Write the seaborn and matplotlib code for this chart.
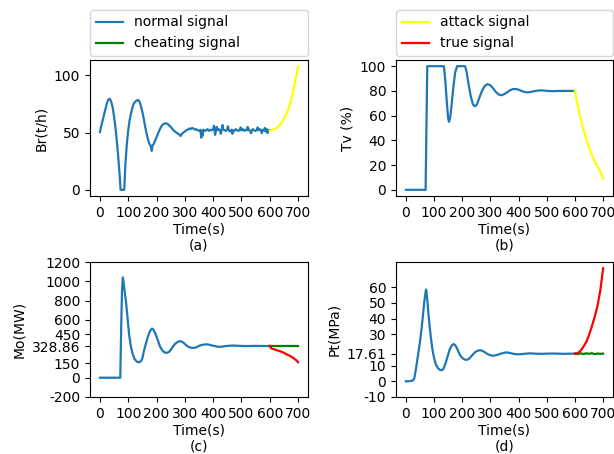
import matplotlib
matplotlib.use("Agg")
import matplotlib.pyplot as plt
import seaborn as sns

# ---------------- data ----------------
br_t = [0, 5, 10, 15, 20, 25, 30, 35, 40, 45, 50, 55, 60, 65, 70, 73, 80, 86, 90, 95,
        100, 105, 110, 115, 120, 125, 130, 135, 140, 145, 150, 155, 160, 165, 170, 175,
        180, 183, 186, 190, 195, 200, 205, 210, 215, 220, 225, 230, 235, 240, 245, 250,
        255, 260, 265, 270, 275, 280, 285, 290, 295,
        300, 305, 310, 315, 320, 325, 330, 335, 340, 345, 350, 355, 358, 360, 362, 365,
        370, 375, 380, 385, 390, 395, 400, 403, 405, 407, 410, 413, 415, 420, 425, 427,
        430, 433, 435, 440, 445, 450, 452, 455, 460, 465, 468, 470, 475, 480, 485, 490,
        495, 497, 500, 505, 510, 515, 520, 522, 525, 530, 534, 537, 540, 545, 550, 555,
        557, 560, 565, 570, 572, 575, 580, 583, 585, 590, 592, 595, 600]
br_v = [50.5, 56, 61, 66, 71, 76, 79, 79.5, 77, 72, 64, 54, 42, 28, 12, 0, 0, 0, 22, 40,
        52, 61, 67, 72, 75.5, 77, 78, 78.5, 77, 73, 68, 62, 55, 49, 44, 40,
        38, 34, 39, 40, 43, 46, 49, 52, 54.5, 56.5, 57.5, 58, 58, 57.5, 56, 55,
        53.5, 52, 51, 50, 49, 48.5, 47, 49, 50,
        51, 52, 52.5, 53.5, 53, 54, 53.5, 52.5, 53, 52, 51.5, 52.5, 45.5, 51.5, 47, 52.5,
        51.5, 52, 53, 51.5, 52.5, 52, 53, 56, 51.5, 48, 52.5, 55, 52, 53, 51.5, 49,
        52.5, 56.5, 53, 52, 51.5, 53, 55.5, 52, 51, 52.5, 49, 52, 51.5, 53, 52, 51.5,
        52.5, 54.5, 52, 53, 51.5, 52.5, 52, 55, 53, 51.5, 49.5, 52, 53, 52, 51.5, 52.5,
        54.5, 52, 53, 51.5, 49.5, 52.5, 52, 54, 51, 53, 49.5, 52, 52]
br_att_t = [600, 610, 620, 630, 640, 650, 660, 670, 680, 690, 700]
br_att_v = [51.5, 52.5, 53.5, 55, 58, 62, 67, 74, 83, 95, 108]

tv_t = [0, 70, 76, 135, 140, 145, 150, 153, 157, 162, 168, 175, 182, 210, 215, 222, 230,
        238, 245, 252, 260, 270, 280, 290, 300, 310, 320, 330, 340, 350, 360, 370, 380,
        390, 400, 410, 420, 430, 440, 450, 460, 470, 480, 490, 500, 520, 540, 560, 580, 600]
tv_v = [0, 0, 100, 100, 88, 72, 58, 55, 58, 68, 82, 95, 100, 100, 96, 86, 76,
        69, 67.5, 69, 74, 80, 84, 85.5, 84.5, 82, 79, 77, 76.5, 77.5, 79, 80.5, 81.5,
        81.5, 81, 80, 79.2, 78.8, 79, 79.5, 80, 80.3, 80.4, 80.3, 80, 79.8, 79.9, 80, 80, 80]
tv_att_t = [600, 604, 610, 615, 620, 625, 633, 640, 651, 660, 668, 677, 686, 693, 700]
tv_att_v = [80, 75, 68, 63, 58, 53, 47, 41, 34, 28, 24, 20, 16.5, 13, 9]

mo_t = [0, 72, 75, 78, 81, 84, 88, 92, 97, 103, 109, 115, 122, 130, 137, 144, 150, 155,
        162, 170, 177, 184, 190, 197, 205, 212, 220, 228, 237, 245, 255, 265, 275, 284,
        292, 300, 310, 320, 330, 340, 350, 360, 370, 377, 385, 395, 405, 415, 425, 435,
        445, 460, 475, 490, 510, 530, 550, 570, 590, 600]
mo_v = [0, 0, 500, 900, 1040, 980, 880, 790, 640, 450, 330, 254, 195, 168, 160, 168, 200, 270,
        350, 430, 485, 510, 495, 450, 385, 325, 285, 262, 258, 270, 310, 350, 372, 380,
        370, 350, 325, 312, 308, 315, 330, 340, 345, 346, 343, 335, 328, 322, 321, 324,
        328, 332, 333, 331, 328, 329, 330, 329, 329, 328.86]
mo_true_t = [600, 603, 606, 615, 625, 635, 645, 655, 665, 675, 685, 693, 700]
mo_true_v = [328.86, 315, 303, 295, 285, 276, 265, 250, 235, 220, 200, 182, 160]
mo_cheat_t = [600, 610, 620, 630, 640, 650, 660, 670, 680, 690, 700]
mo_cheat_v = [328.86] * 11

pt_t = [0, 10, 20, 25, 30, 35, 40, 45, 50, 56, 60, 65, 70, 72, 76, 80, 85, 90, 95, 100,
        105, 110, 115, 120, 127, 133, 140, 145, 150, 155, 160, 165, 170, 175, 180, 185,
        190, 195, 200, 205, 210, 217, 225, 235, 245, 255, 264, 272, 280, 290, 300, 311,
        320, 330, 340, 350, 357, 365, 375, 385, 395, 410, 425, 440, 460, 480, 500, 520,
        540, 560, 580, 600]
pt_v = [0, 0, 0.3, 0.5, 2, 7, 13, 19, 25, 34, 41, 50, 57, 58.5, 52, 43, 34, 26, 19.5, 15,
        11.5, 9.5, 8.2, 7.4, 7, 7.8, 11, 14, 17, 20, 22, 23.3, 23.7, 23, 21.5, 19.5,
        17.5, 16, 15, 14.2, 13.8, 13.7, 14.5, 16.5, 18.5, 19.5, 19.8, 19.4, 18.5, 17.3, 16.6, 16.3,
        16.6, 17.2, 17.8, 18.2, 18.4, 18.2, 17.8, 17.4, 17.2, 17.3, 17.6, 17.8, 17.6, 17.5, 17.6, 17.7,
        17.6, 17.5, 17.6, 17.61]
pt_true_t = [600, 610, 620, 630, 640, 650, 660, 670, 680, 690, 700]
pt_true_v = [17.61, 18, 19.5, 22, 25, 29.5, 35, 41, 48, 58, 72]
pt_cheat_t = [600, 610, 620, 630, 640, 650, 660, 670, 680, 690, 700]
pt_cheat_v = [17.61, 17.3, 17.9, 17.4, 17.8, 17.5, 17.9, 17.3, 17.7, 17.5, 17.6]

xticks = [0, 100, 200, 300, 400, 500, 600, 700]
mo_yticks = [-200, 0, 150, 328.86, 450, 600, 800, 1000, 1200]
mo_ylabels = ["-200", "0", "150", "328.86", "450", "600", "800", "1000", "1200"]
pt_yticks = [-10, 0, 10, 17.61, 30, 40, 50, 60]
pt_ylabels = ["-10", "0", "10", "17.61", "30", "40", "50", "60"]

# ---------------- figure ----------------
plt.rcParams['font.family'] = ['DejaVu Sans']
plt.rcParams['font.size'] = 10
W, H = 614, 454
fig = plt.figure(figsize=(W / 100, H / 100), dpi=100)

def ax_at(l, t, r, b):
    return fig.add_axes([l / W, 1 - b / H, (r - l) / W, (b - t) / H])

ax_a = ax_at(90, 60, 308, 196)
ax_b = ax_at(396, 60, 613, 196)
ax_c = ax_at(90, 262, 308, 397)
ax_d = ax_at(396, 262, 613, 397)

BLUE = '#1f77b4'
lw = 1.6

sns.lineplot(x=br_t, y=br_v, ax=ax_a, color=BLUE, lw=lw, label='normal signal')
sns.lineplot(x=br_att_t, y=br_att_v, ax=ax_a, color='yellow', lw=lw, label='attack signal')

sns.lineplot(x=tv_t, y=tv_v, ax=ax_b, color=BLUE, lw=lw)
sns.lineplot(x=tv_att_t, y=tv_att_v, ax=ax_b, color='yellow', lw=lw)

sns.lineplot(x=mo_t, y=mo_v, ax=ax_c, color=BLUE, lw=lw)
sns.lineplot(x=mo_cheat_t, y=mo_cheat_v, ax=ax_c, color='green', lw=lw, label='cheating signal')
sns.lineplot(x=mo_true_t, y=mo_true_v, ax=ax_c, color='red', lw=lw, label='true signal')

sns.lineplot(x=pt_t, y=pt_v, ax=ax_d, color=BLUE, lw=lw)
sns.lineplot(x=pt_cheat_t, y=pt_cheat_v, ax=ax_d, color='green', lw=lw)
sns.lineplot(x=pt_true_t, y=pt_true_v, ax=ax_d, color='red', lw=lw)

ha, la = ax_a.get_legend_handles_labels()
hc, lc = ax_c.get_legend_handles_labels()
for ax in (ax_a, ax_c):
    if ax.get_legend():
        ax.get_legend().remove()
hmap = dict(zip(la + lc, ha + hc))

leg_kw = dict(bbox_to_anchor=(0, 1.03, 1, 0.3), loc='lower left', mode='expand',
              borderaxespad=0, fontsize=10)
ax_a.legend([hmap['normal signal'], hmap['cheating signal']],
            ['normal signal', 'cheating signal'], **leg_kw)
ax_b.legend([hmap['attack signal'], hmap['true signal']],
            ['attack signal', 'true signal'], **leg_kw)

for ax, lab, yl in [(ax_a, '(a)', 'Br(t/h)'), (ax_b, '(b)', 'Tv (%)'),
                    (ax_c, '(c)', 'Mo(MW)'), (ax_d, '(d)', 'Pt(MPa)')]:
    ax.set_xticks(xticks)
    ax.set_xlim(-35, 735)
    ax.set_xlabel('Time(s)\n' + lab, labelpad=2, linespacing=1.15)
    ax.set_ylabel(yl)

ax_a.set_yticks([0, 50, 100])
ax_a.set_ylim(-5.4, 113.4)
ax_b.set_yticks([0, 20, 40, 60, 80, 100])
ax_b.set_ylim(-5, 105)
ax_c.set_yticks(mo_yticks)
ax_c.set_yticklabels(mo_ylabels)
ax_c.set_ylim(-200, 1200)
ax_d.set_yticks(pt_yticks)
ax_d.set_yticklabels(pt_ylabels)
ax_d.set_ylim(-10, 76)

fig.savefig('out.png', dpi=100)
